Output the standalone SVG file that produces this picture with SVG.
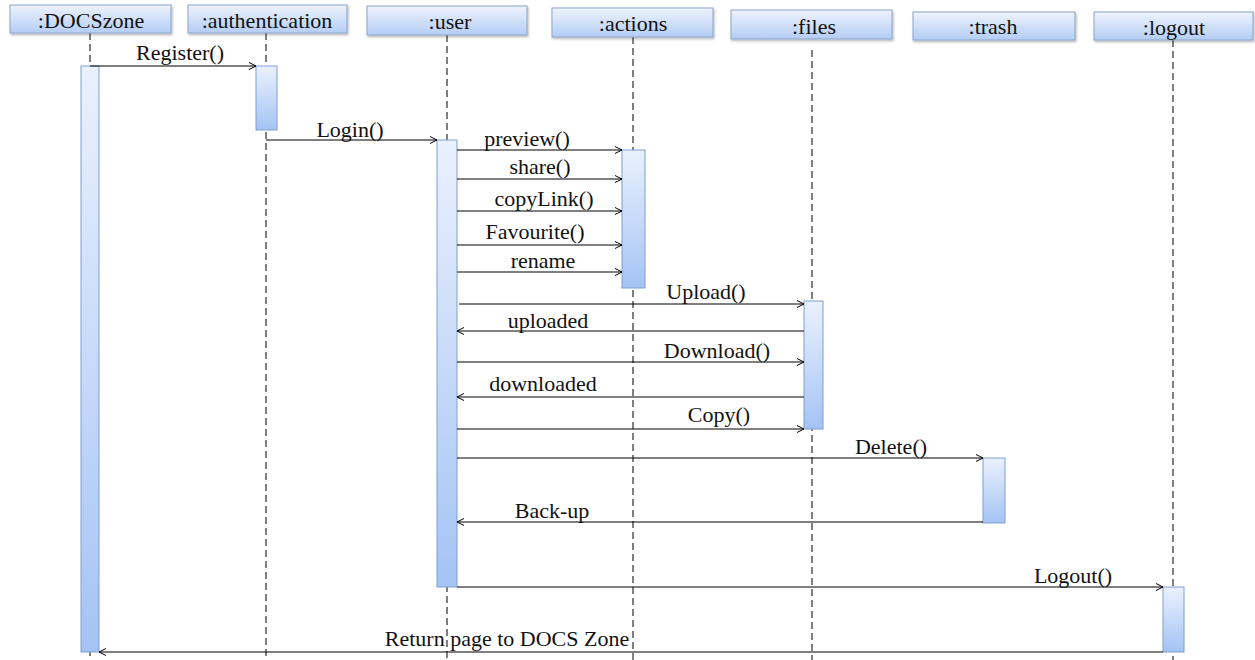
<svg xmlns="http://www.w3.org/2000/svg" width="1255" height="660" viewBox="0 0 1255 660">
<defs>
<linearGradient id="hg" x1="0" y1="0" x2="0" y2="1">
<stop offset="0" stop-color="#eef3fc"/>
<stop offset="1" stop-color="#b4cdf5"/>
</linearGradient>
<linearGradient id="ag" x1="0" y1="0" x2="0" y2="1">
<stop offset="0" stop-color="#eaf1fd"/>
<stop offset="1" stop-color="#a4c3f4"/>
</linearGradient>
<filter id="sh" x="-5%" y="-10%" width="115%" height="130%">
<feDropShadow dx="1" dy="1.5" stdDeviation="1" flood-color="#000" flood-opacity="0.3"/>
</filter>
<marker id="arr" markerWidth="10" markerHeight="10" refX="8" refY="4" orient="auto" markerUnits="userSpaceOnUse">
<path d="M1,0.5 L8,4 L1,7.5" fill="none" stroke="#000" stroke-width="1"/>
</marker>
</defs>
<style>
.hd{fill:url(#hg);stroke:#8ba5cb;stroke-width:1;filter:url(#sh)}
.act{fill:url(#ag);stroke:#7f9fd2;stroke-width:1}
.life{stroke:#000;stroke-width:1;stroke-dasharray:7 4;fill:none}
.msg{stroke:#000;stroke-width:1.2;fill:none;marker-end:url(#arr)}
text{font-family:"Liberation Serif","Times New Roman",serif;font-size:22px;fill:#111;text-anchor:middle}
</style>
<rect width="1255" height="660" fill="#fff"/>

<g id="lifelines">
<line class="life" x1="90" y1="33" x2="90" y2="660"/>
<line class="life" x1="266" y1="33" x2="266" y2="660"/>
<line class="life" x1="447" y1="35" x2="447" y2="660"/>
<line class="life" x1="633" y1="37" x2="633" y2="660"/>
<line class="life" x1="812" y1="50" x2="812" y2="660"/>
<line class="life" x1="1173" y1="40" x2="1173" y2="660"/>
</g>

<g id="DOCSzone">
<rect class="hd" x="10" y="5" width="161" height="28"/>
<text x="91" y="28">:DOCSzone</text>
<rect class="act" x="81" y="66" width="18" height="586"/>
</g>
<g id="authentication">
<rect class="hd" x="188" y="5" width="159" height="28"/>
<text x="267" y="28">:authentication</text>
<rect class="act" x="256" y="66" width="21" height="64"/>
</g>
<g id="user">
<rect class="hd" x="367" y="6" width="160" height="29"/>
<text x="450" y="29">:user</text>
<rect class="act" x="437" y="140" width="20" height="447"/>
</g>
<g id="actions">
<rect class="hd" x="552" y="8" width="161" height="29"/>
<text x="633" y="31">:actions</text>
<rect class="act" x="622" y="150" width="23" height="138"/>
</g>
<g id="files">
<rect class="hd" x="731" y="10" width="161" height="29"/>
<text x="814" y="34">:files</text>
<rect class="act" x="804" y="301" width="19" height="128"/>
</g>
<g id="trash">
<rect class="hd" x="913" y="12" width="162" height="28"/>
<text x="993" y="34">:trash</text>
<rect class="act" x="983" y="458" width="22" height="65"/>
</g>
<g id="logout">
<rect class="hd" x="1094" y="12" width="159" height="28"/>
<text x="1174" y="35">:logout</text>
<rect class="act" x="1163" y="587" width="21" height="65"/>
</g>

<g id="connectors">
<line class="msg" x1="90" y1="66" x2="256" y2="66"/>
<line class="msg" x1="266" y1="140" x2="437" y2="140"/>
<line class="msg" x1="457" y1="150" x2="622" y2="150"/>
<line class="msg" x1="457" y1="179" x2="622" y2="179"/>
<line class="msg" x1="457" y1="211" x2="622" y2="211"/>
<line class="msg" x1="457" y1="245" x2="622" y2="245"/>
<line class="msg" x1="457" y1="272" x2="622" y2="272"/>
<line class="msg" x1="459" y1="304" x2="804" y2="304"/>
<line class="msg" x1="804" y1="331" x2="457" y2="331"/>
<line class="msg" x1="457" y1="362" x2="804" y2="362"/>
<line class="msg" x1="804" y1="397" x2="457" y2="397"/>
<line class="msg" x1="457" y1="429" x2="804" y2="429"/>
<line class="msg" x1="457" y1="458" x2="983" y2="458"/>
<line class="msg" x1="983" y1="522" x2="457" y2="522"/>
<line class="msg" x1="457" y1="587" x2="1163" y2="587"/>
<line class="msg" x1="1163" y1="652" x2="99" y2="652"/>
</g>

<g id="labels">
<text x="180" y="60">Register()</text>
<text x="350" y="137">Login()</text>
<text x="527" y="146">preview()</text>
<text x="540" y="174">share()</text>
<text x="544" y="206">copyLink()</text>
<text x="535" y="239">Favourite()</text>
<text x="543" y="268">rename</text>
<text x="706" y="299">Upload()</text>
<text x="548" y="328">uploaded</text>
<text x="717" y="358">Download()</text>
<text x="543" y="391">downloaded</text>
<text x="719" y="422">Copy()</text>
<text x="891" y="454">Delete()</text>
<text x="552" y="518">Back-up</text>
<text x="1073" y="583">Logout()</text>
<text x="507" y="646">Return page to DOCS Zone</text>
</g>
</svg>
